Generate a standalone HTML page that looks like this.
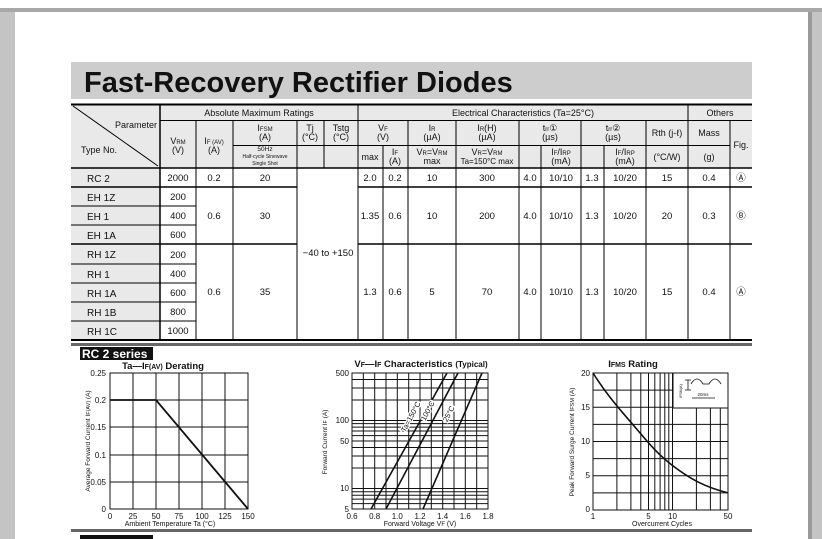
<!DOCTYPE html>
<html><head><meta charset="utf-8"><style>
html,body{margin:0;padding:0;background:#c4c4c4;}
svg{display:block;font-family:"Liberation Sans",sans-serif;}
</style></head><body>
<svg width="822" height="539" viewBox="0 0 822 539" xmlns="http://www.w3.org/2000/svg">
<rect x="0" y="0" width="822" height="8" fill="#fff"/>
<rect x="0" y="8" width="822" height="4" fill="#a8a8a8"/>
<rect x="15" y="12" width="793" height="527" fill="#fff"/>
<rect x="808" y="12" width="4" height="527" fill="#9a9a9a"/>
<!-- title -->
<rect x="71" y="62" width="681" height="37" fill="#cdcdcd"/>
<text x="84" y="92" font-size="29" font-weight="bold" fill="#111">Fast-Recovery Rectifier Diodes</text>

<!-- table backgrounds -->
<rect x="71" y="104" width="681" height="64" fill="#e9e9e9"/>
<rect x="71" y="168" width="89" height="172" fill="#e9e9e9"/>
<g stroke="#000" stroke-width="1" fill="none">
<line x1="71" y1="104.5" x2="752" y2="104.5" stroke-width="2"/>
<line x1="71" y1="340" x2="752" y2="340" stroke-width="2"/>
<line x1="160" y1="120.5" x2="752" y2="120.5"/>
<line x1="233" y1="145.5" x2="297" y2="145.5"/>
<line x1="297" y1="145.5" x2="358" y2="145.5"/>
<line x1="358" y1="145.5" x2="730" y2="145.5"/>
<line x1="71" y1="168" x2="752" y2="168" stroke-width="1.5"/>
<line x1="71" y1="187" x2="297" y2="187" stroke-width="1.5"/>
<line x1="358" y1="187" x2="752" y2="187" stroke-width="1.5"/>
<line x1="71" y1="244" x2="297" y2="244" stroke-width="1.5"/>
<line x1="358" y1="244" x2="752" y2="244" stroke-width="1.5"/>
<line x1="71" y1="206" x2="196" y2="206"/>
<line x1="71" y1="225" x2="196" y2="225"/>
<line x1="71" y1="264" x2="196" y2="264"/>
<line x1="71" y1="283" x2="196" y2="283"/>
<line x1="71" y1="302" x2="196" y2="302"/>
<line x1="71" y1="321" x2="196" y2="321"/>
<line x1="160" y1="104" x2="160" y2="340" stroke-width="1.5"/>
<line x1="196" y1="120" x2="196" y2="340"/>
<line x1="233" y1="120" x2="233" y2="340"/>
<line x1="297" y1="120" x2="297" y2="340"/>
<line x1="324" y1="120" x2="324" y2="168"/>
<line x1="358" y1="104" x2="358" y2="340"/>
<line x1="383" y1="145" x2="383" y2="340"/>
<line x1="408" y1="120" x2="408" y2="340"/>
<line x1="456" y1="120" x2="456" y2="340"/>
<line x1="519" y1="120" x2="519" y2="340"/>
<line x1="541" y1="145" x2="541" y2="340"/>
<line x1="581" y1="120" x2="581" y2="340"/>
<line x1="604" y1="145" x2="604" y2="340"/>
<line x1="646" y1="120" x2="646" y2="340"/>
<line x1="688" y1="104" x2="688" y2="340"/>
<line x1="730" y1="120" x2="730" y2="340"/>
<line x1="73" y1="106" x2="158" y2="166"/>
</g>
<g font-size="9" fill="#111" text-anchor="middle">
<text x="259" y="116">Absolute Maximum Ratings</text>
<text x="523" y="116">Electrical Characteristics  (Ta=25°C)</text>
<text x="720" y="116">Others</text>
<text x="157" y="128" text-anchor="end">Parameter</text>
<text x="99" y="153">Type No.</text>
<text x="178" y="144">V<tspan font-size="6">RM</tspan></text><text x="178" y="153">(V)</text>
<text x="214" y="144">I<tspan font-size="6">F (AV)</tspan></text><text x="214" y="153">(A)</text>
<text x="265" y="131">I<tspan font-size="6">FSM</tspan></text><text x="265" y="140">(A)</text>
<text x="265" y="151" font-size="6.5">50Hz</text><text x="265" y="158" font-size="5">Half-cycle Sinewave</text><text x="265" y="165" font-size="5">Single Shot</text>
<text x="310" y="131">Tj</text><text x="310" y="140">(°C)</text>
<text x="341" y="131">Tstg</text><text x="341" y="140">(°C)</text>
<text x="383" y="131">V<tspan font-size="6">F</tspan></text><text x="383" y="140">(V)</text>
<text x="370" y="160">max</text>
<text x="395" y="155">I<tspan font-size="6">F</tspan></text><text x="395" y="164">(A)</text>
<text x="432" y="131">I<tspan font-size="6">R</tspan></text><text x="432" y="140">(µA)</text>
<text x="432" y="155">V<tspan font-size="6">R</tspan>=V<tspan font-size="6">RM</tspan></text><text x="432" y="164">max</text>
<text x="487" y="131">I<tspan font-size="6">R</tspan>(H)</text><text x="487" y="140">(µA)</text>
<text x="487" y="155">V<tspan font-size="6">R</tspan>=V<tspan font-size="6">RM</tspan></text><text x="487" y="164" font-size="8">Ta=150°C max</text>
<text x="550" y="131">t<tspan font-size="6">rr</tspan>①</text><text x="550" y="140">(µs)</text>
<text x="561" y="155">I<tspan font-size="6">F</tspan>/I<tspan font-size="6">RP</tspan></text><text x="561" y="164">(mA)</text>
<text x="613" y="131">t<tspan font-size="6">rr</tspan>②</text><text x="613" y="140">(µs)</text>
<text x="625" y="155">I<tspan font-size="6">F</tspan>/I<tspan font-size="6">RP</tspan></text><text x="625" y="164">(mA)</text>
<text x="667" y="136">Rth (j-ℓ)</text><text x="667" y="160">(°C/W)</text>
<text x="709" y="136">Mass</text><text x="709" y="160">(g)</text>
<text x="741" y="148">Fig.</text>
</g>
<g font-size="10" fill="#111">
<text x="87" y="182">RC 2</text><text x="87" y="201">EH 1Z</text><text x="87" y="220">EH 1</text><text x="87" y="239">EH 1A</text>
<text x="87" y="258">RH 1Z</text><text x="87" y="278">RH 1</text><text x="87" y="297">RH 1A</text><text x="87" y="316">RH 1B</text><text x="87" y="335">RH 1C</text>
</g>
<g font-size="9.5" fill="#111" text-anchor="middle">
<text x="178" y="181">2000</text><text x="178" y="200">200</text><text x="178" y="219">400</text><text x="178" y="238">600</text>
<text x="178" y="258">200</text><text x="178" y="277">400</text><text x="178" y="296">600</text><text x="178" y="315">800</text><text x="178" y="334">1000</text>
<text x="214" y="181">0.2</text><text x="265" y="181">20</text>
<text x="370" y="181">2.0</text><text x="395" y="181">0.2</text><text x="432" y="181">10</text><text x="487" y="181">300</text>
<text x="530" y="181">4.0</text><text x="561" y="181">10/10</text><text x="592" y="181">1.3</text><text x="625" y="181">10/20</text>
<text x="667" y="181">15</text><text x="709" y="181">0.4</text><text x="741" y="181">Ⓐ</text>
<text x="214" y="219">0.6</text><text x="265" y="219">30</text>
<text x="370" y="219">1.35</text><text x="395" y="219">0.6</text><text x="432" y="219">10</text><text x="487" y="219">200</text>
<text x="530" y="219">4.0</text><text x="561" y="219">10/10</text><text x="592" y="219">1.3</text><text x="625" y="219">10/20</text>
<text x="667" y="219">20</text><text x="709" y="219">0.3</text><text x="741" y="219">Ⓑ</text>
<text x="328" y="256">−40 to +150</text>
<text x="214" y="295">0.6</text><text x="265" y="295">35</text>
<text x="370" y="295">1.3</text><text x="395" y="295">0.6</text><text x="432" y="295">5</text><text x="487" y="295">70</text>
<text x="530" y="295">4.0</text><text x="561" y="295">10/10</text><text x="592" y="295">1.3</text><text x="625" y="295">10/20</text>
<text x="667" y="295">15</text><text x="709" y="295">0.4</text><text x="741" y="295">Ⓐ</text>
</g>

<!-- section separators -->
<rect x="71" y="343" width="681" height="3" fill="#666"/>
<rect x="71" y="529" width="681" height="3" fill="#666"/>
<rect x="80" y="347" width="73" height="13" fill="#111"/>
<text x="82" y="358" font-size="12" font-weight="bold" fill="#fff">RC 2 series</text>
<rect x="80" y="535" width="73" height="6" fill="#111"/>

<!-- chart 1 -->
<g stroke="#111" stroke-width="1" fill="none">
<rect x="110" y="373" width="138" height="136"/>
<path d="M133 373V509M156 373V509M179 373V509M202 373V509M225 373V509M110 400H248M110 427H248M110 455H248M110 482H248"/>
<path d="M110 400H156L248 509" stroke-width="1.8"/>
</g>
<g font-size="8" fill="#111" text-anchor="middle">
<text x="163" y="369" font-size="9.5" font-weight="bold">Ta—I<tspan font-size="7">F(AV)</tspan> Derating</text>
<text x="110" y="519">0</text><text x="133" y="519">25</text><text x="156" y="519">50</text><text x="179" y="519">75</text><text x="202" y="519">100</text><text x="225" y="519">125</text><text x="248" y="519">150</text>
<text x="170" y="526" font-size="7">Ambient Temperature   Ta (°C)</text>
<g text-anchor="end"><text x="106" y="376">0.25</text><text x="106" y="403">0.2</text><text x="106" y="430">0.15</text><text x="106" y="458">0.1</text><text x="106" y="485">0.05</text><text x="106" y="512">0</text></g>
<text transform="translate(90 441) rotate(-90)" font-size="6.5">Average Forward Current   I<tspan font-size="5.5">F(AV)</tspan> (A)</text>
</g>

<!-- chart 2 -->
<g stroke="#111" stroke-width="1" fill="none">
<rect x="352" y="373" width="136" height="136"/>
<path d="M363.3 373V509M374.7 373V509M386 373V509M397.3 373V509M408.7 373V509M420 373V509M431.3 373V509M442.7 373V509M454 373V509M465.3 373V509M476.7 373V509"/>
<path d="M352 503.6H488M352 499.1H488M352 495.2H488M352 491.7H488M352 488.5H488M352 468H488M352 456H488M352 447.5H488M352 441H488M352 435.6H488M352 431H488M352 427.1H488M352 423.6H488M352 420.5H488M352 400H488M352 388H488M352 379.5H488"/>
<path d="M371 509L447 373M386 509L458 373M423 509L482 373" stroke-width="1.6"/>
</g>
<g font-size="8" fill="#111" text-anchor="middle">
<text x="421" y="367" font-size="9.5" font-weight="bold">V<tspan font-size="7">F</tspan>—I<tspan font-size="7">F</tspan>  Characteristics <tspan font-size="8">(Typical)</tspan></text>
<text x="352" y="519">0.6</text><text x="374.7" y="519">0.8</text><text x="397.3" y="519">1.0</text><text x="420" y="519">1.2</text><text x="442.7" y="519">1.4</text><text x="465.3" y="519">1.6</text><text x="488" y="519">1.8</text>
<text x="420" y="526" font-size="7">Forward Voltage   V<tspan font-size="6">F</tspan> (V)</text>
<g text-anchor="end"><text x="349" y="376">500</text><text x="349" y="423">100</text><text x="349" y="444">50</text><text x="349" y="491">10</text><text x="349" y="512">5</text></g>
<text transform="translate(327 442) rotate(-90)" font-size="6.5">Forward Current   I<tspan font-size="5.5">F</tspan> (A)</text>
<g font-size="7.5" stroke="#fff" stroke-width="2.5" paint-order="stroke">
<text transform="translate(413 418) rotate(-62)">Ta=150°C</text>
<text transform="translate(430 412) rotate(-62)">100°C</text>
<text transform="translate(451 415) rotate(-62)">25°C</text>
</g>
</g>

<!-- chart 3 -->
<g stroke="#111" stroke-width="1" fill="none">
<rect x="593" y="373" width="135" height="137"/>
<path d="M616.9 373V510M630.9 373V510M640.8 373V510M648.5 373V510M654.8 373V510M660.1 373V510M664.8 373V510M668.8 373V510M672.5 373V510M696.4 373V510M710.4 373V510M720.3 373V510"/>
<path d="M593 390.1H728M593 407.3H728M593 424.4H728M593 441.5H728M593 458.6H728M593 475.8H728M593 492.9H728"/>
<rect x="673" y="373" width="55" height="35" fill="#fff"/>
<path d="M593 373C605 392 615 404 630.9 422.3S655 452 672.5 465.5S705 487 728 492.9" stroke-width="1.6"/>
<path d="M688 380V390M685 380H691M685 390H691M691 384q6 -10 12 0h6q6 -10 12 0M692 398H715" stroke-width="0.8"/>
</g>
<g font-size="8" fill="#111" text-anchor="middle">
<text x="633" y="367" font-size="9.5" font-weight="bold">I<tspan font-size="7">FMS</tspan>   Rating</text>
<text x="593" y="519">1</text><text x="648.5" y="519">5</text><text x="672.5" y="519">10</text><text x="728" y="519">50</text>
<text x="662" y="526" font-size="7">Overcurrent Cycles</text>
<g text-anchor="end"><text x="590" y="376">20</text><text x="590" y="410">15</text><text x="590" y="444">10</text><text x="590" y="478">5</text><text x="590" y="512">0</text></g>
<text transform="translate(574 442) rotate(-90)" font-size="6.5">Peak Forward Surge Current   I<tspan font-size="5.5">FSM</tspan> (A)</text>
<text x="703" y="396" font-size="4.5">20ms</text>
<text transform="translate(682 391) rotate(-90)" font-size="4">I<tspan font-size="3.5">FSM</tspan>(A)</text>
</g>
</svg>
</body></html>
